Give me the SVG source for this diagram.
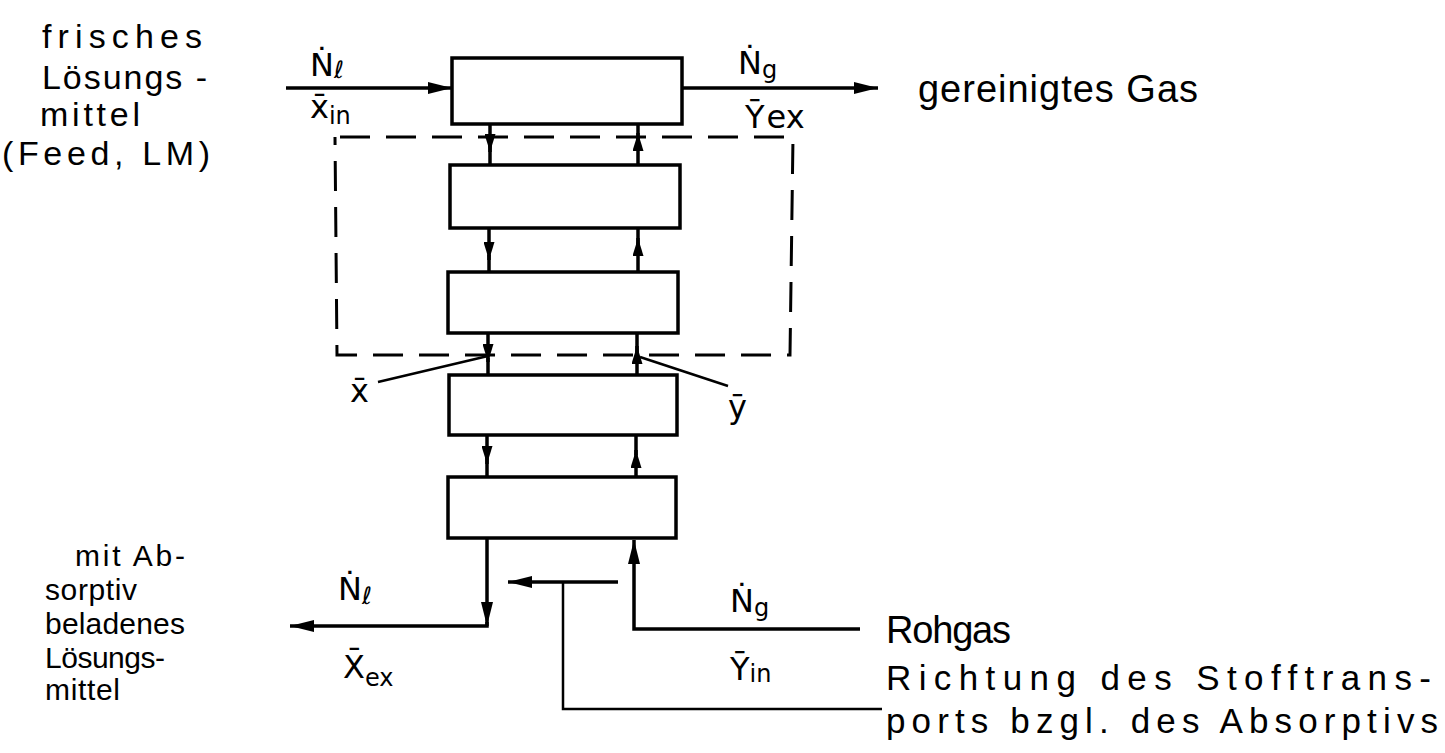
<svg xmlns="http://www.w3.org/2000/svg" width="1445" height="753" viewBox="0 0 1445 753">
<style>
.box{fill:#fff;stroke:#000;stroke-width:3.5}
.ln{fill:none;stroke:#000;stroke-width:3.5}
.thin{fill:none;stroke:#000;stroke-width:2.5}
.dash{fill:none;stroke:#000;stroke-width:3;stroke-dasharray:30 16}
text{font-family:"Liberation Sans","DejaVu Sans",sans-serif;fill:#000}
.t{font-size:38px}
.tb{font-size:35px}
.tl{font-size:34px}
.s{font-size:30px}
.sym{font-family:"DejaVu Sans",sans-serif;font-size:32px}
.sub{font-size:24px}
</style>
<defs>
<marker id="ah" viewBox="0 0 24 12" refX="24" refY="6" markerWidth="24" markerHeight="12" markerUnits="userSpaceOnUse" orient="auto">
<path d="M0,0 L24,6 L0,12 Z" fill="#000"/>
</marker>
<marker id="as" viewBox="0 0 18 11" refX="18" refY="5.5" markerWidth="18" markerHeight="11" markerUnits="userSpaceOnUse" orient="auto">
<path d="M0,0 L18,5.5 L0,11 Z" fill="#000"/>
</marker>
</defs>
<rect width="1445" height="753" fill="#fff"/>

<g id="connectors">
<line class="ln" x1="286" y1="88" x2="452" y2="88" marker-end="url(#ah)"/>
<line class="ln" x1="683" y1="88" x2="878" y2="88" marker-end="url(#ah)"/>
<!-- liquid down -->
<line class="ln" x1="490" y1="124" x2="490" y2="152" marker-end="url(#as)"/>
<line class="ln" x1="490" y1="145" x2="490" y2="165"/>
<line class="ln" x1="489" y1="228" x2="489" y2="260" marker-end="url(#as)"/>
<line class="ln" x1="489" y1="255" x2="489" y2="272"/>
<line class="ln" x1="488" y1="333" x2="488" y2="362" marker-end="url(#as)"/>
<line class="ln" x1="488" y1="358" x2="488" y2="375"/>
<line class="ln" x1="487" y1="435" x2="487" y2="464" marker-end="url(#as)"/>
<line class="ln" x1="487" y1="458" x2="487" y2="477"/>
<!-- gas up -->
<line class="ln" x1="638" y1="165" x2="638" y2="133" marker-end="url(#as)"/>
<line class="ln" x1="638" y1="140" x2="638" y2="124"/>
<line class="ln" x1="638" y1="272" x2="638" y2="238" marker-end="url(#as)"/>
<line class="ln" x1="638" y1="245" x2="638" y2="228"/>
<line class="ln" x1="637" y1="375" x2="637" y2="346" marker-end="url(#as)"/>
<line class="ln" x1="637" y1="352" x2="637" y2="333"/>
<line class="ln" x1="636" y1="477" x2="636" y2="450" marker-end="url(#as)"/>
<line class="ln" x1="636" y1="455" x2="636" y2="435"/>
<!-- bottom outlet liquid -->
<line class="ln" x1="487" y1="538" x2="487" y2="626" marker-end="url(#ah)"/>
<polyline class="ln" points="487,622 487,626 290,626" marker-end="url(#ah)"/>
<!-- gas inlet -->
<polyline class="ln" points="860,629 634,629 634,540" marker-end="url(#ah)"/>
<!-- mass transfer direction -->
<line class="ln" x1="618" y1="582" x2="508" y2="582" marker-end="url(#ah)"/>
<polyline class="thin" points="563,582 563,709 882,709"/>
<!-- dashed balance -->
<polyline class="dash" points="340,137 793,137 790,355 337,355 335,137"/>
<!-- pointer lines -->
<line class="thin" x1="378" y1="382" x2="488" y2="356"/>
<line class="thin" x1="728" y1="386" x2="640" y2="357"/>
</g>

<g id="stage1"><rect class="box" x="452" y="58" width="230" height="66"/></g>
<g id="stage2"><rect class="box" x="450" y="165" width="230" height="63"/></g>
<g id="stage3"><rect class="box" x="448" y="272" width="230" height="61"/></g>
<g id="stage4"><rect class="box" x="449" y="375" width="228" height="60"/></g>
<g id="stage5"><rect class="box" x="448" y="477" width="228" height="61"/></g>

<g id="labels">
<text class="tl" x="42" y="48" textLength="160">frisches</text>
<text class="tl" x="42" y="89" textLength="165">Lösungs -</text>
<text class="tl" x="40" y="126" textLength="100">mittel</text>
<text class="tl" x="2" y="165" textLength="208">(Feed, LM)</text>

<text class="sym" x="310" y="76">Ṅ<tspan class="sub" dy="2">ℓ</tspan></text>
<text class="sym" x="310" y="118">x̄<tspan class="sub" dy="6">in</tspan></text>
<text class="sym" x="738" y="74">Ṅ<tspan class="sub" dy="4">g</tspan></text>
<text class="sym" x="745" y="128">Ȳ<tspan dx="2">ex</tspan></text>

<text class="t" x="918" y="102" textLength="280">gereinigtes Gas</text>

<text class="sym" x="350" y="402">x̄</text>
<text class="sym" x="728" y="418">ȳ</text>

<text class="s" x="75" y="566" textLength="110">mit Ab-</text>
<text class="s" x="45" y="600" textLength="92">sorptiv</text>
<text class="s" x="45" y="634" textLength="140">beladenes</text>
<text class="s" x="45" y="668" textLength="120">Lösungs-</text>
<text class="s" x="45" y="700" textLength="75">mittel</text>

<text class="sym" x="338" y="600">Ṅ<tspan class="sub" dy="4">ℓ</tspan></text>
<text class="sym" x="343" y="678">X̄<tspan class="sub" dy="8">ex</tspan></text>

<text class="sym" x="730" y="612">Ṅ<tspan class="sub" dy="4">g</tspan></text>
<text class="sym" x="730" y="680">Ȳ<tspan class="sub" dy="2">in</tspan></text>

<text class="t" x="886" y="643" textLength="125">Rohgas</text>
<text class="tb" x="886" y="690" textLength="545">Richtung des Stofftrans-</text>
<text class="tb" x="886" y="733" textLength="552">ports bzgl. des Absorptivs</text>
</g>
</svg>
